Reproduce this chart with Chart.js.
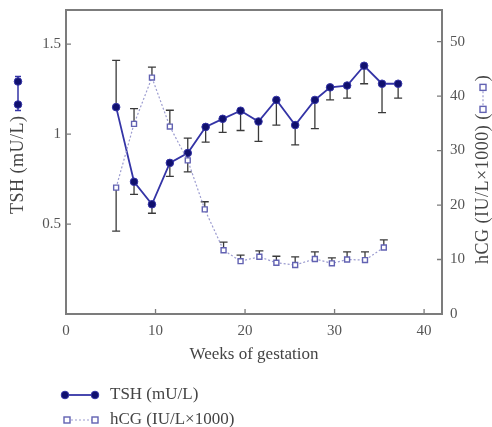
<!DOCTYPE html>
<html>
<head>
<meta charset="utf-8">
<script src="https://cdn.jsdelivr.net/npm/chart.js@4.4.1/dist/chart.umd.min.js"></script>
<style>
  html, body { margin: 0; padding: 0; background: #fff; }
  #wrap { position: relative; width: 492px; height: 427px; }
</style>
</head>
<body>
<div id="wrap"><canvas id="chart" width="492" height="427"></canvas></div>
<script>
// weeks of gestation (x positions)
const weeks = [5.6, 7.6, 9.6, 11.6, 13.6, 15.6, 17.5, 19.5, 21.5, 23.5, 25.6, 27.8, 29.5, 31.4, 33.3, 35.3, 37.1];
// TSH mean and end of its error bar
const tshValues = [1.15, 0.735, 0.61, 0.84, 0.895, 1.04, 1.085, 1.13, 1.07, 1.19, 1.05, 1.19, 1.26, 1.27, 1.38, 1.28, 1.28];
const tshErrEnd = [1.41, 0.665, 0.56, 0.765, 0.79, 0.955, 1.01, 1.02, 0.96, 1.05, 0.94, 1.03, 1.19, 1.2, 1.28, 1.12, 1.2];
// hCG mean and end of its error bar
const hcgWeeks = [5.6, 7.6, 9.6, 11.6, 13.6, 15.5, 17.6, 19.5, 21.6, 23.5, 25.6, 27.8, 29.7, 31.4, 33.4, 35.5];
const hcgValues = [23.2, 34.9, 43.4, 34.4, 28.2, 19.2, 11.7, 9.7, 10.5, 9.4, 9.0, 10.1, 9.3, 10.0, 9.9, 12.2];
const hcgErrEnd = [15.2, 37.7, 45.3, 37.4, 32.3, 20.6, 13.2, 10.8, 11.6, 10.6, 10.5, 11.4, 10.3, 11.4, 11.4, 13.6];

const xTicks = [0, 10, 20, 30, 40];
const tshTicks = [0.5, 1, 1.5];
const hcgTicks = [0, 10, 20, 30, 40, 50];

const tshLabel = "TSH (mU/L)";
const hcgLabel = "hCG (IU/L×1000)";
const xLabel = "Weeks of gestation";

const tshLine = "#3434a6";
const tshDot = "#10106e";
const hcgEdge = "#6262b2";
const hcgLine = "#9c9cd0";
const serif = "'Liberation Serif', 'Times New Roman', serif";

const tickFont = { family: serif, size: 15 };
const tickColor = "#555";
const textColor = "#444";

// draws one-sided error bars from the mean to the end value
const drawBars = (ctx, xs, ys, ends, xScale, yScale) => {
  ctx.save();
  ctx.strokeStyle = "#3a3a3a";
  ctx.lineWidth = 1.3;
  xs.forEach((w, i) => {
    const px = xScale.getPixelForValue(w);
    const y0 = yScale.getPixelForValue(ys[i]);
    const y1 = yScale.getPixelForValue(ends[i]);
    ctx.beginPath();
    ctx.moveTo(px, y0);
    ctx.lineTo(px, y1);
    ctx.moveTo(px - 4, y1);
    ctx.lineTo(px + 4, y1);
    ctx.stroke();
  });
  ctx.restore();
};

const circle = (ctx, x, y) => {
  ctx.beginPath();
  ctx.arc(x, y, 3.8, 0, Math.PI * 2);
  ctx.fillStyle = tshDot;
  ctx.fill();
  ctx.strokeStyle = tshLine;
  ctx.lineWidth = 1;
  ctx.stroke();
};

const square = (ctx, x, y) => {
  ctx.fillStyle = "#fff";
  ctx.fillRect(x - 3, y - 3, 6, 6);
  ctx.strokeStyle = hcgEdge;
  ctx.lineWidth = 1.4;
  ctx.strokeRect(x - 3, y - 3, 6, 6);
};

// no extra room above/below the value axes, so the plot box starts at the layout padding
const noPad = (s, width) => {
  s.width = width;
  s.paddingTop = 0;
  s.paddingBottom = 0;
};

const decor = {
  id: "decor",
  beforeDatasetsDraw(chart) {
    const { ctx, scales } = chart;
    drawBars(ctx, weeks, tshValues, tshErrEnd, scales.x, scales.y);
    drawBars(ctx, hcgWeeks, hcgValues, hcgErrEnd, scales.x, scales.y2);
  },
  afterDraw(chart) {
    const { ctx, chartArea: a, scales } = chart;
    ctx.save();
    // frame
    ctx.strokeStyle = "#7c7c7c";
    ctx.lineWidth = 2;
    ctx.strokeRect(a.left, a.top, a.right - a.left, a.bottom - a.top);
    // inward ticks
    ctx.lineWidth = 1.3;
    ctx.beginPath();
    xTicks.forEach((v) => {
      const px = scales.x.getPixelForValue(v);
      ctx.moveTo(px, a.bottom);
      ctx.lineTo(px, a.bottom - 5);
    });
    tshTicks.forEach((v) => {
      const py = scales.y.getPixelForValue(v);
      ctx.moveTo(a.left, py);
      ctx.lineTo(a.left + 5, py);
    });
    hcgTicks.forEach((v) => {
      const py = scales.y2.getPixelForValue(v);
      ctx.moveTo(a.right, py);
      ctx.lineTo(a.right - 5, py);
    });
    ctx.stroke();

    ctx.textBaseline = "middle";
    ctx.textAlign = "left";

    // axis titles are a touch larger and wider spaced
    ctx.save();
    ctx.font = "18px " + serif;
    ctx.letterSpacing = "0.5px";
    ctx.fillStyle = textColor;

    // left axis title, reading upwards, with its marker
    ctx.save();
    ctx.translate(18, 214);
    ctx.rotate(-Math.PI / 2);
    ctx.fillText(tshLabel, 0, 0);
    let w = ctx.measureText(tshLabel).width + 5;
    ctx.strokeStyle = tshLine;
    ctx.lineWidth = 1.5;
    ctx.beginPath();
    ctx.moveTo(w, 0);
    ctx.lineTo(w + 34, 0);
    ctx.moveTo(w, -3);
    ctx.lineTo(w, 3);
    ctx.moveTo(w + 34, -3);
    ctx.lineTo(w + 34, 3);
    ctx.stroke();
    circle(ctx, w + 6, 0);
    circle(ctx, w + 29, 0);
    ctx.restore();

    // right axis title, reading upwards, with its marker
    ctx.save();
    ctx.translate(483, 264);
    ctx.rotate(-Math.PI / 2);
    ctx.fillStyle = textColor;
    const head = hcgLabel + " (";
    ctx.fillText(head, 0, 0);
    w = ctx.measureText(head).width + 4;
    ctx.strokeStyle = hcgLine;
    ctx.setLineDash([2, 2]);
    ctx.lineWidth = 1.2;
    ctx.beginPath();
    ctx.moveTo(w, 0);
    ctx.lineTo(w + 22, 0);
    ctx.stroke();
    ctx.setLineDash([]);
    square(ctx, w, 0);
    square(ctx, w + 22, 0);
    ctx.fillStyle = textColor;
    ctx.fillText(")", w + 28, 0);
    ctx.restore();
    ctx.restore();

    // legend
    ctx.font = "17px " + serif;
    const ly1 = 395;
    const ly2 = 420;
    ctx.strokeStyle = tshLine;
    ctx.lineWidth = 1.8;
    ctx.beginPath();
    ctx.moveTo(65, ly1);
    ctx.lineTo(95, ly1);
    ctx.stroke();
    circle(ctx, 65, ly1);
    circle(ctx, 95, ly1);
    ctx.strokeStyle = hcgLine;
    ctx.setLineDash([2, 2]);
    ctx.lineWidth = 1.2;
    ctx.beginPath();
    ctx.moveTo(67, ly2);
    ctx.lineTo(95, ly2);
    ctx.stroke();
    ctx.setLineDash([]);
    square(ctx, 67, ly2);
    square(ctx, 95, ly2);
    ctx.fillStyle = textColor;
    ctx.fillText(tshLabel, 110, ly1);
    ctx.fillText(hcgLabel, 110, ly2);
    ctx.restore();
  },
};

new Chart(document.getElementById("chart"), {
  type: "line",
  data: {
    datasets: [
      {
        label: hcgLabel,
        data: hcgWeeks.map((w, i) => ({ x: w, y: hcgValues[i] })),
        yAxisID: "y2",
        borderColor: hcgLine,
        borderWidth: 1.2,
        borderDash: [2, 2],
        pointStyle: "rect",
        pointRadius: 3.5,
        pointBackgroundColor: "#fff",
        pointBorderColor: hcgEdge,
        pointBorderWidth: 1.4,
        tension: 0,
      },
      {
        label: tshLabel,
        data: weeks.map((w, i) => ({ x: w, y: tshValues[i] })),
        yAxisID: "y",
        borderColor: tshLine,
        borderWidth: 1.8,
        pointStyle: "circle",
        pointRadius: 3.8,
        pointBackgroundColor: tshDot,
        pointBorderColor: tshLine,
        pointBorderWidth: 1,
        tension: 0,
      },
    ],
  },
  options: {
    responsive: false,
    devicePixelRatio: 1,
    animation: false,
    layout: { padding: { top: 10, bottom: 52, left: 0, right: 0 } },
    plugins: { legend: { display: false }, tooltip: { enabled: false } },
    scales: {
      x: {
        type: "linear",
        position: "bottom",
        min: 0,
        max: 42,
        afterBuildTicks: (s) => { s.ticks = xTicks.map((v) => ({ value: v })); },
        afterFit: (s) => { s.height = 61; },
        grid: { display: false, drawTicks: false },
        border: { display: false },
        ticks: { font: tickFont, color: tickColor, padding: 8, maxRotation: 0 },
        title: {
          display: true,
          text: xLabel,
          font: { family: serif, size: 17 },
          color: textColor,
          padding: { top: 0, bottom: 10 },
        },
      },
      y: {
        type: "linear",
        position: "left",
        min: 0,
        max: 1.69,
        afterBuildTicks: (s) => { s.ticks = tshTicks.map((v) => ({ value: v })); },
        afterFit: (s) => noPad(s, 66),
        grid: { display: false, drawTicks: false },
        border: { display: false },
        ticks: { font: tickFont, color: tickColor, padding: 5, callback: (v) => String(v) },
      },
      y2: {
        type: "linear",
        position: "right",
        min: 0,
        max: 55.8,
        afterBuildTicks: (s) => { s.ticks = hcgTicks.map((v) => ({ value: v })); },
        afterFit: (s) => noPad(s, 50),
        grid: { display: false, drawTicks: false },
        border: { display: false },
        ticks: { font: tickFont, color: tickColor, padding: 8, callback: (v) => String(v) },
      },
    },
  },
  plugins: [decor],
});
</script>
</body>
</html>
